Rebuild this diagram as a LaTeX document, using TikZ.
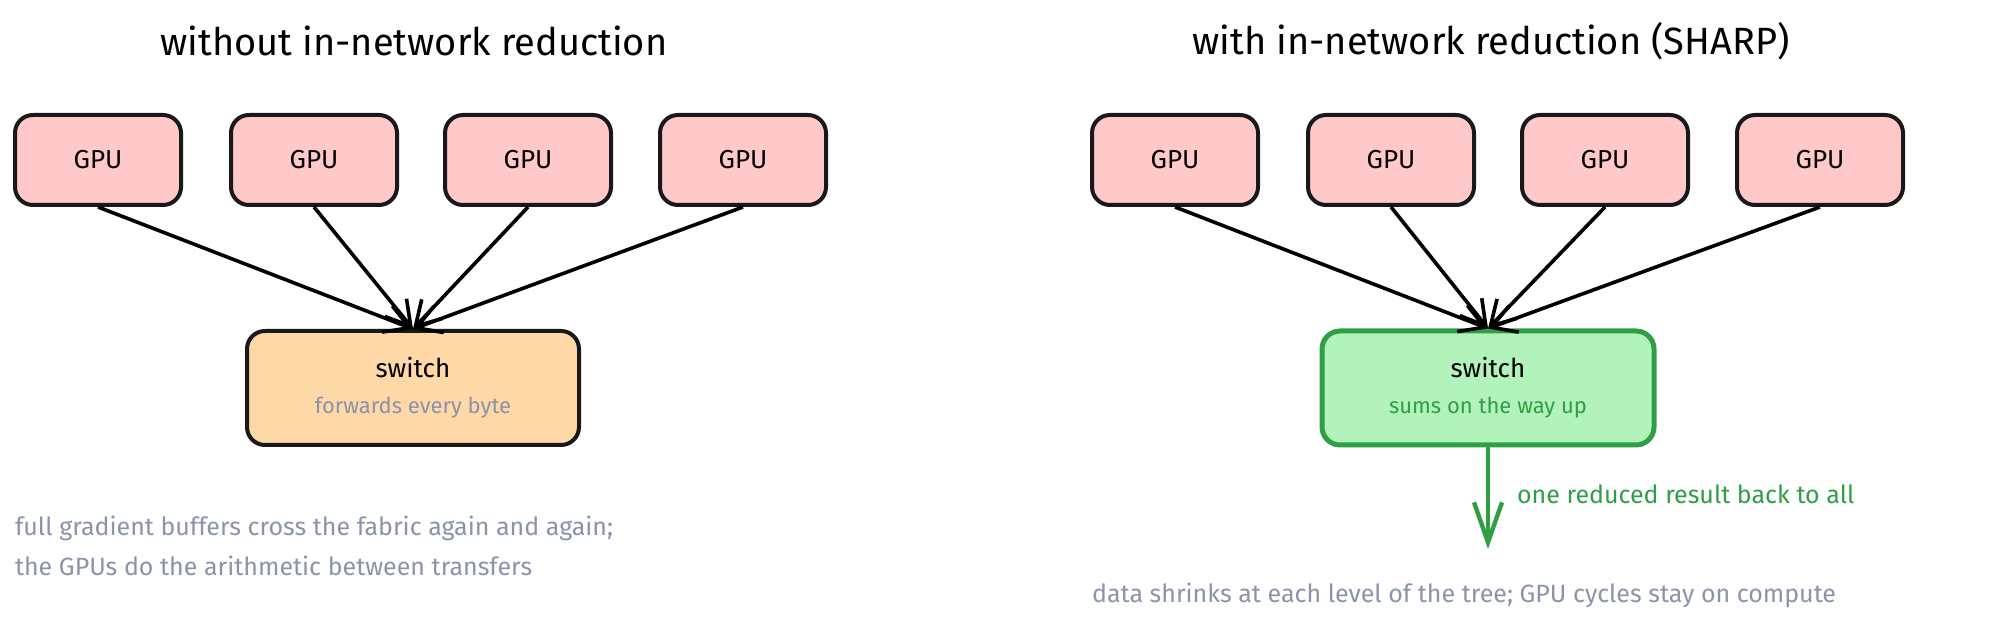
\documentclass[tikz,border=0pt]{standalone}
\usepackage{fontspec}
\setmainfont{Fira Sans}
\usetikzlibrary{arrows.meta}
\definecolor{gpuf}{HTML}{FFC9C9}
\definecolor{swo}{HTML}{FFD8A8}
\definecolor{swg}{HTML}{B2F2BB}
\definecolor{grn}{HTML}{2F9E44}
\definecolor{note}{HTML}{8A93A8}
\begin{document}
\begin{tikzpicture}[x=0.5pt,y=-0.5pt,
  box/.style={draw=black!90,line width=2pt,rounded corners=9pt,inner sep=0pt},
  gpu/.style={box,fill=gpuf,minimum width=83pt,minimum height=45pt,font=\fontsize{13}{15}\selectfont},
  sw/.style={box,minimum width=166pt,minimum height=57pt,align=center},
  conn/.style={line width=1.8pt,-{Straight Barb[length=12pt,width=14pt]}},
  title/.style={font=\fontsize{19}{22}\selectfont},
  notet/.style={text=note,font=\fontsize{12.5}{20}\selectfont,anchor=west,align=left}]
\useasboundingbox (0,0) rectangle (2000,624);
\node[title] (t1) at (414,41) {without in-network reduction};
\node[title] (t2) at (1491,41) {with in-network reduction (SHARP)};
\foreach \i/\x in {1/98,2/314,3/528,4/743}{\node[gpu] (a\i) at (\x,160) {GPU};}
\foreach \i/\x in {1/1175,2/1391,3/1605,4/1820}{\node[gpu] (b\i) at (\x,160) {GPU};}
\node[sw,fill=swo] (s1) at (413,388) {\fontsize{13}{15}\selectfont switch\\[6pt]{\color{note}\fontsize{11}{13}\selectfont forwards every byte}};
\node[sw,fill=swg,draw=grn,line width=2.5pt] (s2) at (1488,388) {\fontsize{13}{15}\selectfont switch\\[6pt]{\color{grn}\fontsize{11}{13}\selectfont sums on the way up}};
\foreach \i in {1,...,4}{\draw[conn] (a\i.south) -- (s1.north);
  \draw[conn] (b\i.south) -- (s2.north);}
\coordinate (e) at (1488,549);
\draw[conn,draw=grn,line width=2.2pt,-{Straight Barb[length=20pt,width=14pt]}] (s2.south) -- (e);
\node[text=grn,anchor=west,font=\fontsize{12.5}{15}\selectfont] (l) at (1510,494) {one reduced result back to all};
\node[notet] (n1) at (8,546) {full gradient buffers cross the fabric again and again;\\the GPUs do the arithmetic between transfers};
\node[notet] (n2) at (1085,595) {data shrinks at each level of the tree; GPU cycles stay on compute};
\end{tikzpicture}
\end{document}
